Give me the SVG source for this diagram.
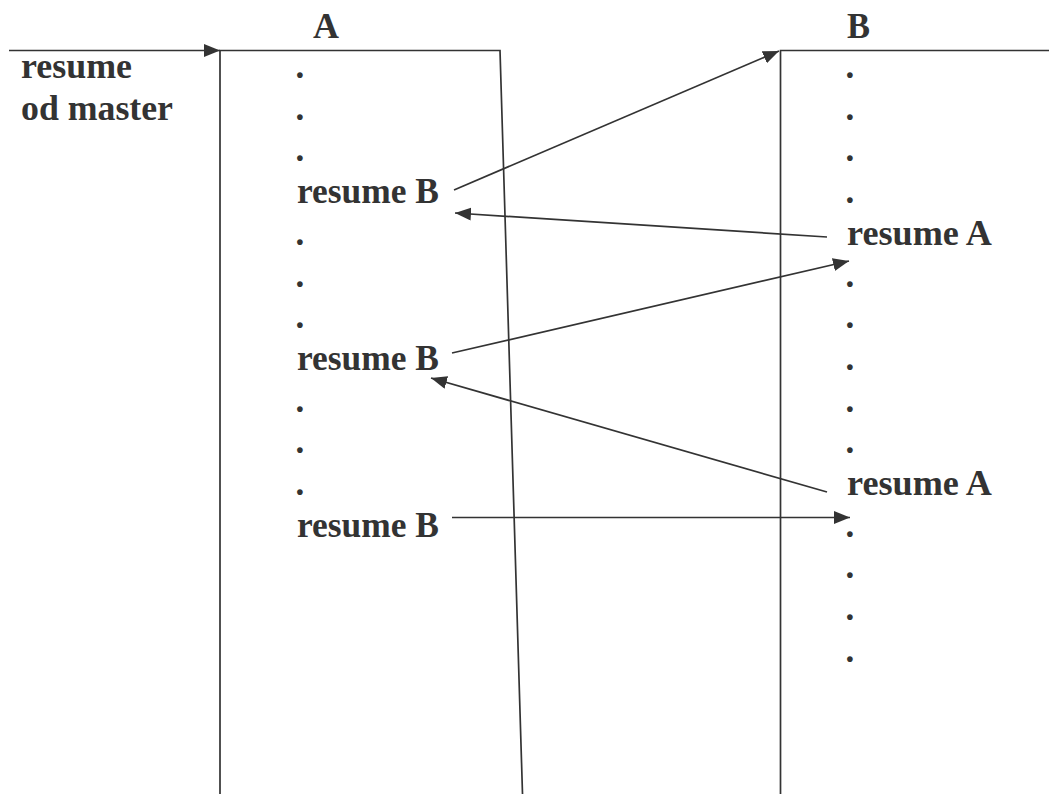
<svg xmlns="http://www.w3.org/2000/svg" width="1049" height="794" viewBox="0 0 1049 794">
  <style>
    .t { font-family: "Liberation Serif", "Times New Roman", serif; font-weight: bold; font-size: 35px; fill: #333; }
    .ln { stroke: #333; stroke-width: 1.7; fill: none; }
    .arr { stroke: #333; stroke-width: 1.7; fill: none; marker-end: url(#head); }
  </style>
  <defs>
    <marker id="head" markerUnits="userSpaceOnUse" markerWidth="16" markerHeight="13" refX="16" refY="6.5" orient="auto">
      <path d="M0,0 L16,6.5 L0,13 z" fill="#333"/>
    </marker>
  </defs>
  <rect width="1049" height="794" fill="#fff"/>

  <!-- coroutine A -->
  <g id="node-A">
    <path class="ln" d="M220,794 V50.5 H500 L522.5,794"/>
    <text class="t" x="313" y="38" textLength="26" lengthAdjust="spacingAndGlyphs">A</text>
    <text class="t" x="295.6" y="78">.</text>
    <text class="t" x="295.6" y="119.7">.</text>
    <text class="t" x="295.6" y="161.4">.</text>
    <text class="t" x="297" y="203.1" textLength="142" lengthAdjust="spacingAndGlyphs">resume B</text>
    <text class="t" x="295.6" y="244.8">.</text>
    <text class="t" x="295.6" y="286.5">.</text>
    <text class="t" x="295.6" y="328.2">.</text>
    <text class="t" x="297" y="369.9" textLength="142" lengthAdjust="spacingAndGlyphs">resume B</text>
    <text class="t" x="295.6" y="411.6">.</text>
    <text class="t" x="295.6" y="453.3">.</text>
    <text class="t" x="295.6" y="495">.</text>
    <text class="t" x="297" y="536.7" textLength="142" lengthAdjust="spacingAndGlyphs">resume B</text>
  </g>

  <!-- coroutine B -->
  <g id="node-B">
    <path class="ln" d="M780.5,794 V50.5 H1049"/>
    <text class="t" x="847" y="38" textLength="23" lengthAdjust="spacingAndGlyphs">B</text>
    <text class="t" x="845.6" y="78">.</text>
    <text class="t" x="845.6" y="119.7">.</text>
    <text class="t" x="845.6" y="161.4">.</text>
    <text class="t" x="845.6" y="203.1">.</text>
    <text class="t" x="847" y="244.8" textLength="145" lengthAdjust="spacingAndGlyphs">resume A</text>
    <text class="t" x="845.6" y="286.5">.</text>
    <text class="t" x="845.6" y="328.2">.</text>
    <text class="t" x="845.6" y="369.9">.</text>
    <text class="t" x="845.6" y="411.6">.</text>
    <text class="t" x="845.6" y="453.3">.</text>
    <text class="t" x="847" y="495" textLength="145" lengthAdjust="spacingAndGlyphs">resume A</text>
    <text class="t" x="845.6" y="536.7">.</text>
    <text class="t" x="845.6" y="578.4">.</text>
    <text class="t" x="845.6" y="620.1">.</text>
    <text class="t" x="845.6" y="661.8">.</text>
  </g>

  <!-- entry from master -->
  <g id="node-master">
    <text class="t" x="21" y="78" textLength="111" lengthAdjust="spacingAndGlyphs">resume</text>
    <text class="t" x="21" y="120" textLength="152" lengthAdjust="spacingAndGlyphs">od master</text>
  </g>

  <!-- control transfers -->
  <g id="connectors">
    <line class="arr" x1="9" y1="50.5" x2="220" y2="50.5"/>
    <line class="arr" x1="454" y1="190" x2="779" y2="51"/>
    <line class="arr" x1="827" y1="237" x2="455" y2="213"/>
    <line class="arr" x1="452" y1="353" x2="849" y2="261"/>
    <line class="arr" x1="827" y1="492" x2="431" y2="378"/>
    <line class="arr" x1="452" y1="517.5" x2="850" y2="517.5"/>
  </g>
</svg>
